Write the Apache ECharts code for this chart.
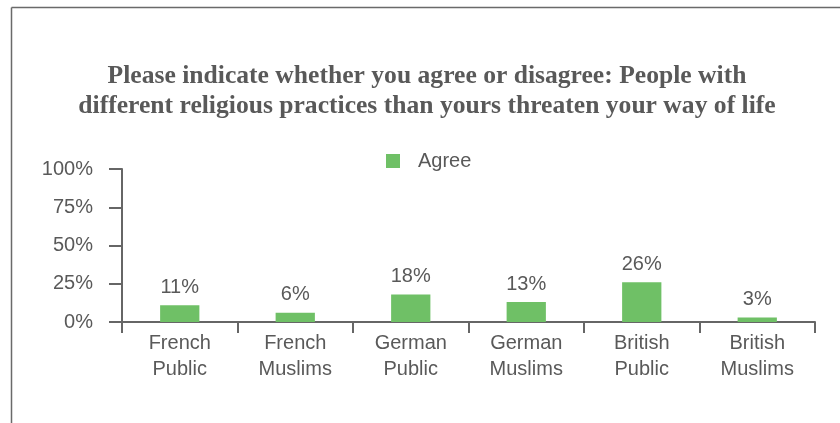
<!DOCTYPE html>
<html>
<head>
<meta charset="utf-8">
<script src="https://cdn.jsdelivr.net/npm/echarts@6/dist/echarts.min.js"></script>
<style>
html,body{margin:0;padding:0;background:#fff;}
#chart{width:840px;height:423px;}
</style>
</head>
<body>
<div id="chart"></div>
<script>
const titleText = 'Please indicate whether you agree or disagree: People with\ndifferent religious practices than yours threaten your way of life';
const categories = ['French\nPublic', 'French\nMuslims', 'German\nPublic', 'German\nMuslims', 'British\nPublic', 'British\nMuslims'];
const seriesName = 'Agree';
const agreeValues = [11, 6, 18, 13, 26, 3];
const yTicks = [0, 25, 50, 75, 100];

const textColor = '#595959';
const axisColor = '#666666';
const font = '"Liberation Sans", Arial, sans-serif';

const chart = echarts.init(document.getElementById('chart'), null, {renderer: 'canvas'});
chart.setOption({
  animation: false,
  backgroundColor: '#ffffff',
  graphic: [
    {type: 'line', shape: {x1: 11.5, y1: 7.5, x2: 840, y2: 7.5}, style: {stroke: '#6a6a6a', lineWidth: 1.5}},
    {type: 'line', shape: {x1: 11.5, y1: 7.5, x2: 11.5, y2: 423}, style: {stroke: '#6a6a6a', lineWidth: 1.5}}
  ],
  title: {
    text: titleText,
    left: 422,
    top: 56,
    textAlign: 'center',
    textStyle: {
      fontFamily: '"Liberation Serif", "DejaVu Serif", serif',
      fontWeight: 'bold',
      fontSize: 25.6,
      lineHeight: 30,
      color: textColor
    }
  },
  legend: {
    data: [seriesName],
    left: 386,
    top: 151,
    padding: 0,
    itemWidth: 14,
    itemHeight: 14,
    icon: 'rect',
    textStyle: {fontFamily: font, fontSize: 20, color: textColor, padding: [0, 0, 0, 13]}
  },
  grid: {left: 122, right: 25, top: 169, bottom: 101, containLabel: false},
  xAxis: {
    type: 'category',
    data: categories,
    axisLine: {show: true, lineStyle: {color: axisColor, width: 2}},
    axisTick: {show: true, alignWithLabel: false, length: 11, lineStyle: {color: axisColor, width: 2}},
    axisLabel: {fontFamily: font, fontSize: 20, color: textColor, lineHeight: 26, margin: 8, interval: 0}
  },
  yAxis: {
    type: 'value',
    min: yTicks[0],
    max: yTicks[yTicks.length - 1],
    interval: 25,
    splitLine: {show: false},
    axisLine: {show: true, lineStyle: {color: axisColor, width: 2}},
    axisTick: {show: true, length: 13, lineStyle: {color: axisColor, width: 2}},
    axisLabel: {fontFamily: font, fontSize: 20, color: textColor, margin: 29, formatter: v => v + '%'}
  },
  series: [{
    name: seriesName,
    type: 'bar',
    data: agreeValues,
    barWidth: '34%',
    itemStyle: {color: '#6fc066'},
    label: {
      show: true,
      position: 'top',
      distance: 8,
      fontFamily: font,
      fontSize: 20,
      color: textColor,
      formatter: p => p.value + '%'
    }
  }]
});
</script>
</body>
</html>
